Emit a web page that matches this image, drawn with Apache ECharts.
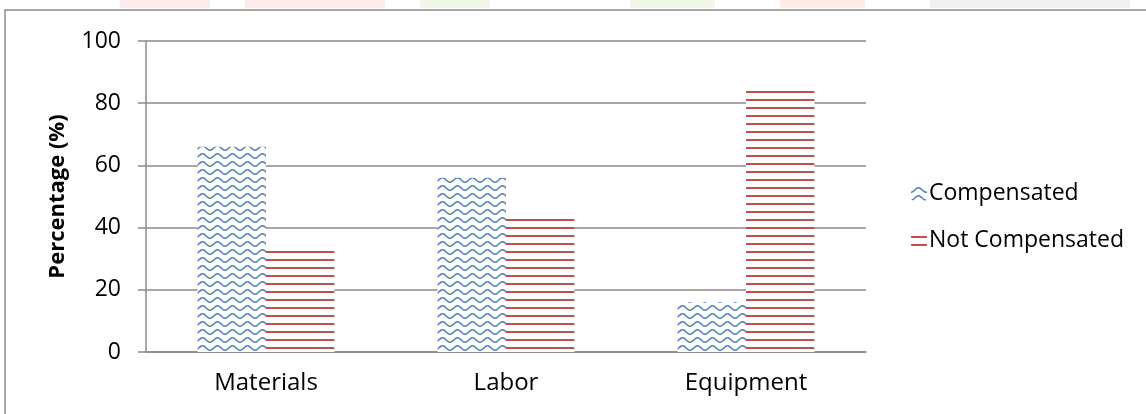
<!DOCTYPE html>
<html>
<head>
<meta charset="utf-8">
<script src="https://cdn.jsdelivr.net/npm/echarts@6/dist/echarts.min.js"></script>
<style>
html,body{margin:0;padding:0;background:#fff;}
#c{width:1146px;height:414px;}
</style>
</head>
<body>
<div id="c"></div>
<script>
const categories = ['Materials', 'Labor', 'Equipment'];
const compensated = [66, 56, 16];
const notCompensated = [33, 44, 84];
const seriesNames = ['Compensated', 'Not Compensated'];
const yTicks = [0, 20, 40, 60, 80, 100];

function wavePattern() {
  const c = document.createElement('canvas');
  c.width = 15; c.height = 8;
  const g = c.getContext('2d');
  g.fillStyle = '#ffffff'; g.fillRect(0, 0, 15, 8);
  g.strokeStyle = '#4F81BD'; g.lineWidth = 1.5;
  g.beginPath();
  for (let x = 0; x <= 15; x += 0.5) {
    const y = 4 + 2.2 * Math.cos(2 * Math.PI * x / 15);
    if (x === 0) g.moveTo(x, y); else g.lineTo(x, y);
  }
  g.stroke();
  return c;
}
function linePattern() {
  const c = document.createElement('canvas');
  c.width = 8; c.height = 8;
  const g = c.getContext('2d');
  g.fillStyle = '#ffffff'; g.fillRect(0, 0, 8, 8);
  g.fillStyle = '#C0504D'; g.fillRect(0, 3, 8, 2);
  return c;
}

const chart = echarts.init(document.getElementById('c'), null, {renderer: 'canvas'});
const font = '"Open Sans", sans-serif';
chart.setOption({
  backgroundColor: '#ffffff',
  animation: false,
  textStyle: {fontFamily: font},
  graphic: [
    {type: 'rect', shape: {x: 120, y: 0, width: 90, height: 8}, style: {fill: '#fdeaea'}, silent: true},
    {type: 'rect', shape: {x: 245, y: 0, width: 140, height: 8}, style: {fill: '#fdeaea'}, silent: true},
    {type: 'rect', shape: {x: 420, y: 0, width: 70, height: 8}, style: {fill: '#f1f8ea'}, silent: true},
    {type: 'rect', shape: {x: 630, y: 0, width: 85, height: 8}, style: {fill: '#f1f8ea'}, silent: true},
    {type: 'rect', shape: {x: 780, y: 0, width: 85, height: 8}, style: {fill: '#feece4'}, silent: true},
    {type: 'rect', shape: {x: 930, y: 0, width: 200, height: 8}, style: {fill: '#f0f0f0'}, silent: true},
    {type: 'polyline', shape: {points: [[5, 414], [5, 10], [1146, 10]]}, style: {stroke: '#8a8a8a', lineWidth: 1.5, fill: null}, silent: true}
  ],
  legend: {
    orient: 'vertical',
    left: 906,
    top: 177,
    itemGap: 24,
    itemWidth: 16,
    itemHeight: 15,
    data: seriesNames,
    textStyle: {fontFamily: font, fontSize: 23, color: '#000', padding: [0, 0, 0, -3]},
    selectedMode: false
  },
  grid: {left: 146, right: 280, top: 41, bottom: 62, containLabel: false},
  xAxis: {
    type: 'category',
    data: categories,
    axisLine: {lineStyle: {color: '#8a8a8a', width: 1.5}},
    axisTick: {show: false},
    axisLabel: {fontFamily: font, fontSize: 24, color: '#000', margin: 19}
  },
  yAxis: {
    type: 'value',
    min: 0, max: 100, interval: 20,
    name: 'Percentage (%)',
    nameLocation: 'middle',
    nameGap: 77,
    nameTextStyle: {fontFamily: font, fontSize: 22, fontWeight: 'bold', color: '#000'},
    axisLine: {show: true, lineStyle: {color: '#8a8a8a', width: 1.5}},
    axisTick: {show: true, length: 8, lineStyle: {color: '#8a8a8a', width: 1.5}},
    axisLabel: {fontFamily: font, fontSize: 23, color: '#000', margin: 25,
      formatter: v => yTicks.includes(v) ? String(v) : ''},
    splitLine: {lineStyle: {color: '#8a8a8a', width: 1.5}}
  },
  series: [
    {name: seriesNames[0], type: 'bar', data: compensated, barGap: '0%', barCategoryGap: '43%',
     itemStyle: {color: {image: wavePattern(), repeat: 'repeat'}}},
    {name: seriesNames[1], type: 'bar', data: notCompensated, barGap: '0%', barCategoryGap: '43%',
     itemStyle: {color: {image: linePattern(), repeat: 'repeat'}}}
  ]
});
</script>
</body>
</html>
